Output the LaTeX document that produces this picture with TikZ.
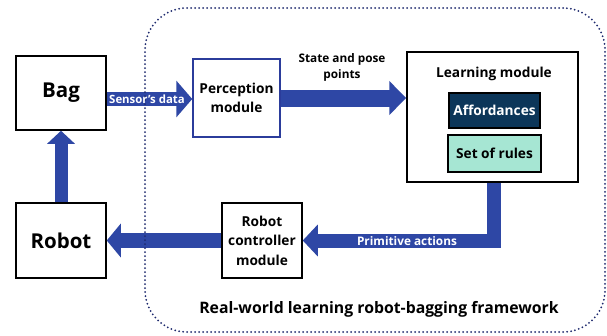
\documentclass[tikz,border=0pt]{standalone}
\usepackage{fontspec}
\setmainfont{Open Sans}
\usetikzlibrary{arrows.meta}
\definecolor{arrowblue}{HTML}{2E47A5}
\definecolor{percblue}{HTML}{2B3C9B}
\definecolor{framenavy}{HTML}{1E2A6E}
\definecolor{affnavy}{HTML}{0C3659}
\definecolor{rulemint}{HTML}{A6E6D3}
\tikzset{
  box/.style={draw=black, line width=1.5pt, fill=white, inner sep=0pt, align=center},
  bigtxt/.style={font=\fontsize{20.5}{24}\selectfont\bfseries},
  modtxt/.style={font=\fontsize{13.7}{19.5}\selectfont\bfseries},
  lbl/.style={font=\fontsize{11.8}{16}\selectfont\bfseries, inner sep=0pt, align=center},
  fat/.style={draw=arrowblue, line cap=butt, line join=miter},
}
\begin{document}
\begin{tikzpicture}[x=1pt, y=-1pt]
\useasboundingbox (0,0) rectangle (607,335);
\fill[white] (0,0) rectangle (607,335);
% boxes
\node[box, bigtxt, minimum width=90pt, minimum height=74pt] (bag) at (61,93) {Bag};
\node[box, bigtxt, minimum width=90pt, minimum height=75pt] (robot) at (61,240.5) {Robot};
\node[box, modtxt, draw=percblue, minimum width=87pt, minimum height=78pt] (perc) at (236.5,98) {Perception\\module};
\node[box, minimum width=171pt, minimum height=130pt] (learn) at (492.5,117) {};
\node[modtxt, inner sep=0pt] (learnlbl) at (494,74) {Learning module};
\node[box, modtxt, fill=affnavy, text=white, minimum width=91pt, minimum height=35pt] (aff) at (494.5,110.5) {Affordances};
\node[box, modtxt, fill=rulemint, minimum width=93pt, minimum height=37pt] (rules) at (494.5,153.5) {Set of rules};
\node[box, modtxt, minimum width=80pt, minimum height=75pt] (ctrl) at (262,240.5) {Robot\\controller\\module};
% arrows
\draw[fat, line width=14pt, -{Triangle[width=36pt,length=16pt]}] ([yshift=-6pt]bag.east) -- ([yshift=-1pt]perc.west);
\draw[fat, line width=17pt, -{Triangle[width=33pt,length=17pt]}] (perc.east) -- (perc.east -| learn.west);
\draw[fat, line width=13pt, -{Triangle[width=27pt,length=13pt]}] (robot.north) -- (bag.south);
\draw[fat, line width=15pt, -{Triangle[width=33pt,length=14pt]}] (ctrl.west) -- (robot.east);
\draw[fat, line width=14pt, -{Triangle[width=31pt,length=15pt]}] ([xshift=1pt]learn.south) |- (ctrl.east);
% frame
\node[draw=framenavy, line width=2pt, dash pattern=on 0pt off 4pt, line cap=round, rounded corners=42pt, minimum width=460pt, minimum height=324pt, inner sep=0pt] (frame) at (375,170) {};
% labels
\node[lbl, text=white, font=\fontsize{11.4}{16}\selectfont\bfseries] (sensorlbl) at (147,99) {Sensor’s data};
\node[lbl] (statelbl) at (342,67) {State and pose\\points};
\node[lbl, text=white] (primlbl) at (407,241) {Primitive actions};
\node[font=\fontsize{15.8}{18}\selectfont\bfseries, inner sep=0pt] (title) at (379,309) {Real-world learning robot-bagging framework};
\end{tikzpicture}
\end{document}
